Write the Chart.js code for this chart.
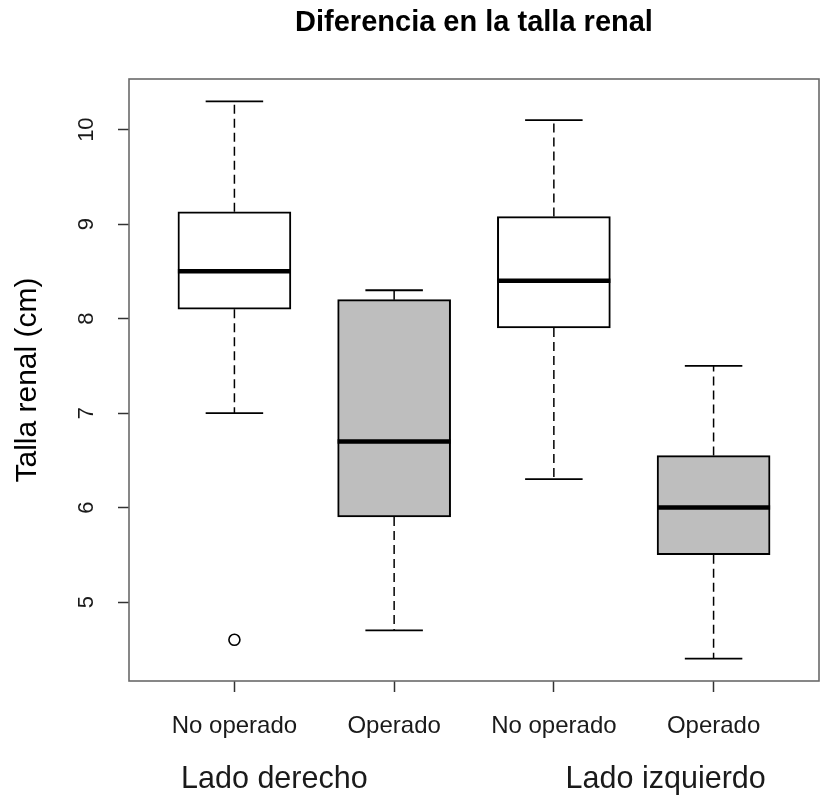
<!DOCTYPE html>
<html>
<head>
<meta charset="utf-8">
<title>Diferencia en la talla renal</title>
<script src="https://cdn.jsdelivr.net/npm/chart.js@4.4.1/dist/chart.umd.min.js"></script>
<style>
  html, body { margin: 0; padding: 0; background: #fff; }
  #wrap { width: 821px; height: 800px; }
</style>
</head>
<body>
<div id="wrap"><canvas id="c" width="821" height="800"></canvas></div>
<script>
// Box-plot summaries of kidney length (cm), one entry per group
const categories = ['No operado', 'Operado', 'No operado', 'Operado'];
const groupNames = ['Lado derecho', 'Lado izquierdo'];
const whiskerLow  = [7.0, 4.7, 6.3, 4.4];
const quartile1   = [8.1, 5.9, 7.9, 5.5];
const medians     = [8.5, 6.7, 8.4, 6.0];
const quartile3   = [9.13, 8.2, 9.08, 6.55];
const whiskerHigh = [10.3, 8.3, 10.1, 7.5];
const outlierGroup = [1];
const outlierValue = [4.6];
const yTickValues = [5, 6, 7, 8, 9, 10];
const boxFills = ['#ffffff', '#bebebe', '#ffffff', '#bebebe'];
const chartTitle = 'Diferencia en la talla renal';

// layout constants
const FONT = '"Liberation Sans", Arial, Helvetica, sans-serif';
const BOX_HALF = 0.354;      // half box width in x-axis units
const CAP_HALF = 0.18;       // half staple width in x-axis units
const GROUP_LABEL_X = [1.25, 3.70];

const xs = categories.map((_, i) => i + 1);

const boxData = xs.map((x, i) => ({ x: x, y: [quartile1[i], quartile3[i]] }));

const whiskerData = [];
const capData = [];
const medianData = [];
xs.forEach((x, i) => {
  whiskerData.push({ x: x, y: quartile3[i] }, { x: x, y: whiskerHigh[i] }, { x: x, y: null });
  whiskerData.push({ x: x, y: quartile1[i] }, { x: x, y: whiskerLow[i] }, { x: x, y: null });
  capData.push({ x: x - CAP_HALF, y: whiskerHigh[i] }, { x: x + CAP_HALF, y: whiskerHigh[i] }, { x: x, y: null });
  capData.push({ x: x - CAP_HALF, y: whiskerLow[i] }, { x: x + CAP_HALF, y: whiskerLow[i] }, { x: x, y: null });
  medianData.push({ x: x - BOX_HALF, y: medians[i] }, { x: x + BOX_HALF, y: medians[i] }, { x: x, y: null });
});
const outlierData = outlierGroup.map((g, i) => ({ x: g, y: outlierValue[i] }));

// frame, title over the plot area, axis labels and group captions
const extras = {
  id: 'extras',
  afterDraw(chart) {
    const { ctx, chartArea: a, scales } = chart;
    ctx.save();
    ctx.strokeStyle = '#6a6a6a';
    ctx.lineWidth = 1.6;
    ctx.strokeRect(a.left, a.top, a.right - a.left, a.bottom - a.top);

    ctx.textAlign = 'center';
    ctx.textBaseline = 'middle';
    ctx.fillStyle = '#000';
    ctx.font = 'bold 29px ' + FONT;
    ctx.fillText(chartTitle, (a.left + a.right) / 2, 23);

    ctx.fillStyle = '#1a1a1a';
    ctx.font = '22px ' + FONT;
    scales.y.ticks.forEach(t => {
      const y = scales.y.getPixelForValue(t.value);
      ctx.save();
      ctx.translate(a.left - 42, y);
      ctx.rotate(-Math.PI / 2);
      ctx.fillText(String(t.value), 0, 0);
      ctx.restore();
    });

    ctx.font = '24px ' + FONT;
    scales.x.ticks.forEach(t => {
      ctx.fillText(categories[Math.round(t.value) - 1], scales.x.getPixelForValue(t.value), a.bottom + 45);
    });

    ctx.font = '30.5px ' + FONT;
    groupNames.forEach((name, i) => {
      ctx.fillText(name, scales.x.getPixelForValue(GROUP_LABEL_X[i]), a.bottom + 99);
    });
    ctx.restore();
  }
};

new Chart(document.getElementById('c'), {
  data: {
    datasets: [
      {
        type: 'bar',
        data: boxData,
        backgroundColor: boxFills,
        borderColor: '#000',
        borderWidth: 2,
        borderSkipped: false,
        barThickness: 113,
        order: 4
      },
      {
        type: 'line',
        data: whiskerData,
        borderColor: '#000',
        borderWidth: 1.5,
        borderDash: [9, 5],
        pointRadius: 0,
        spanGaps: false,
        fill: false,
        order: 3
      },
      {
        type: 'line',
        data: capData,
        borderColor: '#000',
        borderWidth: 1.8,
        pointRadius: 0,
        spanGaps: false,
        fill: false,
        order: 2
      },
      {
        type: 'line',
        data: medianData,
        borderColor: '#000',
        borderWidth: 4.5,
        borderCapStyle: 'butt',
        pointRadius: 0,
        spanGaps: false,
        fill: false,
        order: 1
      },
      {
        type: 'scatter',
        data: outlierData,
        pointStyle: 'circle',
        pointRadius: 5.5,
        pointBorderWidth: 1.6,
        pointBorderColor: '#000',
        pointBackgroundColor: 'rgba(0,0,0,0)',
        order: 0
      }
    ]
  },
  options: {
    responsive: false,
    animation: false,
    events: [],
    layout: { autoPadding: false, padding: { top: 79, right: 2, bottom: 0, left: 0 } },
    plugins: {
      legend: { display: false },
      tooltip: { enabled: false },
      title: { display: false }
    },
    scales: {
      x: {
        type: 'linear',
        position: 'bottom',
        offset: false,
        min: 0.34,
        max: 4.66,
        afterBuildTicks: s => { s.ticks = xs.map(v => ({ value: v })); },
        afterFit: s => { s.height = 119; },
        grid: {
          offset: false,
          drawOnChartArea: false,
          drawTicks: true,
          tickLength: 11,
          tickColor: '#333',
          tickWidth: 1.5
        },
        border: { display: false },
        ticks: { display: false }
      },
      y: {
        type: 'linear',
        position: 'left',
        min: 4.164,
        max: 10.536,
        afterBuildTicks: s => { s.ticks = yTickValues.map(v => ({ value: v })); },
        afterFit: s => { s.width = 129; },
        grid: {
          drawOnChartArea: false,
          drawTicks: true,
          tickLength: 11,
          tickColor: '#333',
          tickWidth: 1.5
        },
        border: { display: false },
        ticks: { display: false },
        title: {
          display: true,
          text: 'Talla renal (cm)',
          color: '#000',
          font: { family: FONT, size: 30 },
          padding: { top: 10, bottom: 0 }
        }
      }
    }
  },
  plugins: [extras]
});
</script>
</body>
</html>
